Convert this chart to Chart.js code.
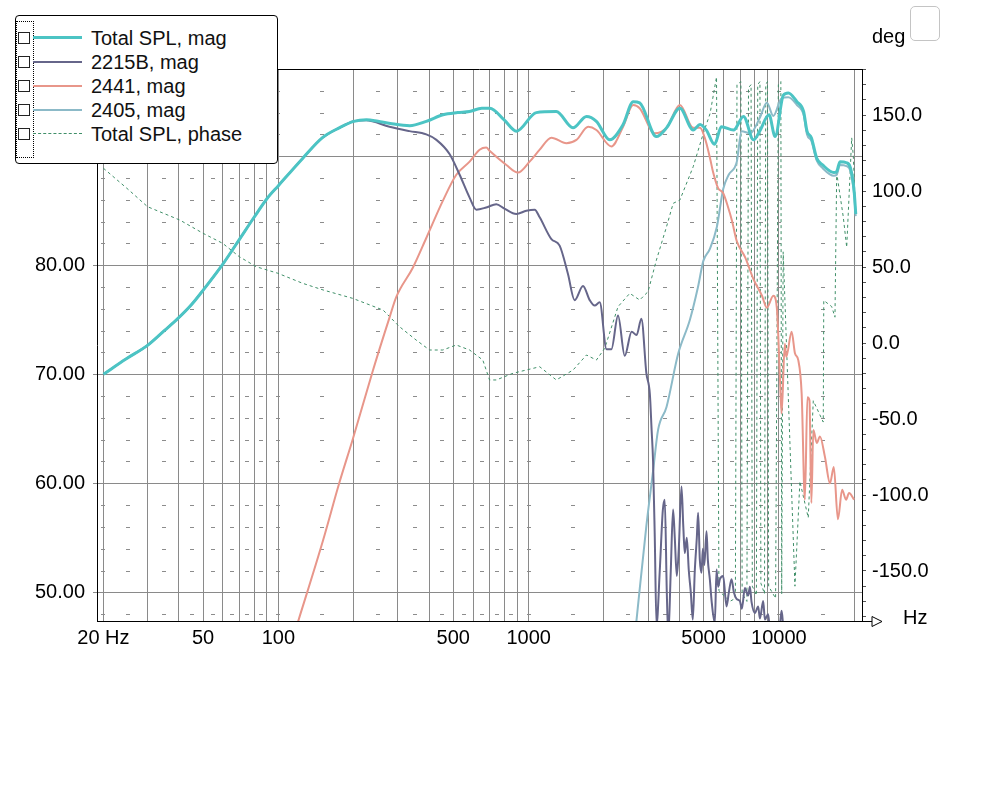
<!DOCTYPE html>
<html>
<head>
<meta charset="utf-8">
<title>Total SPL</title>
<script src="https://cdn.jsdelivr.net/npm/chart.js@4.4.1/dist/chart.umd.min.js"></script>
<style>
  body { margin: 0; background: #fff; font-family: "Liberation Sans", Arial, sans-serif; }
  #wrap { position: relative; width: 1000px; height: 800px; }
  #legend { position: absolute; left: 15px; top: 15px; width: 261px; height: 147px; border: 1px solid #000; border-radius: 4px; background: #fff; }
  #legend .dots { position: absolute; left: 0; top: 5px; width: 16px; height: 135px; border: 1px dotted #000; }
  #legend .row { position: absolute; left: 0; width: 255px; height: 24px; }
  #legend .box { position: absolute; left: 2px; top: 6px; width: 10px; height: 10px; border: 1px solid #222; background: #fff; }
  #legend .swatch { position: absolute; left: 17px; width: 49px; height: 0; }
  #legend .txt { position: absolute; left: 75px; top: 0; font-size: 20px; line-height: 24px; color: #111; white-space: nowrap; }
  #corner { position: absolute; left: 910px; top: 6px; width: 28px; height: 33px; border: 1px solid #c4c4c4; border-radius: 5px; }
</style>
</head>
<body>
<div id="wrap">
  <canvas id="grafico" width="1000" height="800"></canvas>
  <div id="legend"><div class="dots"></div></div>
  <div id="corner"></div>
</div>
<script>
// [frequency Hz, dB]
const totalSpl = [[20,70.0],[24.6,71.4],[30,72.65],[35,74.0],[39.6,75.1],[45,76.4],[50,77.7],[60,80.1],[70,82.4],[80,84.4],[90,86.1],[100,87.3],[125,89.8],[150,91.7],[175,92.6],[200,93.2],[225,93.35],[250,93.2],[280,93.0],[335,92.8],[390,93.2],[455,93.8],[520,94.0],[580,94.1],[650,94.4],[700,94.4],[800,93.3],[893,92.3],[1073,94.0],[1290,94.1],[1504,92.6],[1703,93.65],[1865,93.2],[2109,91.5],[2385,92.9],[2617,95.0],[2778,94.9],[3240,91.8],[3556,92.6],[4021,94.4],[4545,92.4],[4840,92.9],[5130,92.4],[5530,91.1],[5890,92.7],[6590,92.4],[7220,93.65],[7920,91.5],[8380,92.3],[9130,93.8],[9660,91.8],[10420,95.6],[10910,95.8],[11800,95.0],[12550,94.1],[12950,92.3],[13480,91.7],[14170,89.8],[14950,89.2],[16570,88.5],[17020,88.6],[17540,89.5],[18630,89.4],[19330,88.9],[19980,86.8],[20280,84.7]];

const woofer2215B = [[20,70.0],[24.6,71.4],[30,72.65],[35,74.0],[39.6,75.1],[45,76.4],[50,77.7],[60,80.1],[70,82.4],[80,84.4],[90,86.1],[100,87.3],[125,89.8],[150,91.7],[175,92.6],[200,93.2],[224,93.3],[278,92.7],[334,92.3],[390,92.0],[428,91.5],[483,90.2],[530,88.3],[581,86.2],[618,85.1],[677,85.3],[743,85.6],[800,85.2],[893,84.7],[979,85.0],[1057,85.1],[1107,84.4],[1233,82.4],[1330,81.8],[1436,79.2],[1527,76.8],[1649,78.1],[1754,76.8],[1836,76.3],[1923,76.6],[2048,72.3],[2141,72.3],[2276,75.4],[2421,71.7],[2580,73.9],[2700,73.6],[2822,75.1],[2954,70.1],[3050,68.2],[3100,64.9],[3142,62.0],[3192,55.0],[3243,47.0],[3342,52.0],[3436,57.5],[3499,58.5],[3565,50.0],[3614,46.0],[3698,52.0],[3777,57.6],[3837,55.0],[3908,51.5],[3981,54.0],[4081,59.7],[4150,56.0],[4207,53.6],[4285,55.0],[4365,52.0],[4446,50.0],[4529,47.5],[4613,52.0],[4699,55.0],[4756,57.3],[4831,53.0],[4907,51.8],[4966,54.0],[5035,52.5],[5138,55.6],[5200,53.0],[5297,51.2],[5395,49.0],[5546,47.2],[5634,52.1],[5718,50.5],[5808,51.2],[5987,51.5],[6178,48.7],[6310,50.0],[6469,51.2],[6607,50.0],[6773,49.4],[6982,49.2],[7112,48.5],[7311,50.4],[7536,49.7],[7656,50.5],[7777,49.1],[8017,48.1],[8264,48.7],[8395,47.6],[8654,49.2],[8790,47.5],[9061,48.0],[9204,46.5],[9638,46.0],[10090,47.0],[10250,48.3],[10400,47.0],[10570,46.0]];

const driver2441 = [[118,46.8],[151,54.8],[175,60.0],[198,64.0],[239,70.4],[278,75.2],[296,77.1],[345,79.8],[390,82.5],[454,85.9],[514,88.3],[581,89.5],[637,90.6],[677,90.8],[698,90.5],[815,89.2],[906,88.5],[1009,89.5],[1107,90.6],[1233,91.7],[1415,91.2],[1552,91.5],[1730,92.7],[1865,92.4],[2141,90.9],[2385,92.7],[2617,94.7],[2778,94.4],[3190,92.1],[3556,92.6],[4021,94.7],[4545,92.6],[4840,92.6],[5054,91.7],[5309,89.8],[5450,88.6],[5710,87.1],[5990,86.6],[6270,85.3],[6490,84.1],[6790,82.2],[7340,80.7],[7920,78.7],[8560,77.2],[8950,76.1],[9500,77.2],[9810,76.1],[9950,73.4],[10100,69.5],[10250,66.4],[10560,72.8],[10700,71.6],[11240,73.9],[11600,71.9],[11950,71.3],[12330,68.2],[12700,58.5],[13000,67.9],[13250,67.6],[13480,58.2],[13730,64.9],[14170,63.7],[14590,64.3],[15280,62.4],[16000,60.0],[16570,61.5],[17210,56.7],[17890,59.4],[18550,58.5],[19070,59.1],[19980,58.5]];

const tweeter2405 = [[2680,46.8],[2954,56.1],[3145,61.2],[3290,64.9],[3556,67.0],[3960,71.9],[4410,75.0],[4750,78.0],[4990,80.4],[5300,81.5],[5650,83.5],[5990,87.0],[6300,88.3],[6790,89.5],[7090,92.3],[7680,92.1],[8380,93.5],[8950,94.9],[9500,93.7],[10240,95.3],[10900,95.4],[11800,94.7],[12550,93.8],[12950,92.0],[13480,91.4],[14170,89.6],[14950,88.9],[16570,88.2],[17020,88.3],[17540,89.2],[18630,89.1],[19330,88.6],[19980,86.5],[20280,84.5]];

// [frequency Hz, degrees]
const totalPhase = [[20,115],[25.3,100.6],[30,89.7],[40.4,80.9],[50,72.2],[59.9,65.6],[69.8,56.8],[81.6,50.2],[99.5,45.9],[125,39.3],[151,34.9],[198,29.4],[262,21.7],[305,10.7],[355,2.0],[402,-4.6],[454,-4.6],[514,-1.3],[581,-4.6],[656,-11.2],[698,-24.3],[743,-24.3],[866,-19.9],[1107,-15.6],[1290,-24.3],[1504,-17.8],[1703,-7.9],[1865,-11.2],[2014,-3.5],[2276,23.9],[2536,32.7],[2778,28.3],[3000,33.8],[3240,54.6],[3556,76.5],[3780,91.9],[4021,94.1],[4545,116],[4990,138],[5309,151],[5633,175],[5760,-163],[6368,-170],[6700,-168],[6800,170],[7050,172],[7130,-165],[7450,-170],[7560,168],[7740,170],[7830,-160],[8130,-166],[8230,170],[8400,172],[8470,-158],[8760,-165],[8860,170],[9000,172],[9100,-160],[9700,-168],[9950,170],[10180,172],[10260,-165],[10400,60],[10570,28],[11590,-160],[12130,-91],[13100,-115],[13720,-38],[15040,-52],[15110,28],[16250,24],[16750,17],[17020,112],[18080,83],[18660,63],[19540,135],[19830,123],[20140,95]];

const seriesNames = ['Total SPL, mag', '2215B, mag', '2441, mag', '2405, mag', 'Total SPL, phase'];
const seriesColors = ['#4cc4c4', '#66668a', '#e8968a', '#8cbac8', '#3f8f68'];
const seriesWidths = [3, 2, 2, 2, 1];

// axes
const gridFreq = [20,30,40,50,60,70,80,90,100,200,300,400,500,600,700,800,900,1000,2000,3000,4000,5000,6000,7000,8000,9000,10000,20000];
const xTickValues = [20, 50, 100, 500, 1000, 5000, 10000];
const xTickLabels = ['20 Hz', '50', '100', '500', '1000', '5000', '10000'];
const dbTicks = [50, 60, 70, 80, 90];
const phaseTicks = [];
for (let d = -180; d <= 180; d += 10) phaseTicks.push(d);
const minorDb = [48,52,54,56,58,62,64,66,68,72,74,76,78,82,84,86,88,92,94,96];
const minorFreq = [20,25,35,45,55,65,75,85,100,150,250,350,450,550,650,750,850,1000,1500,2500,3500,4500,5500,6500,7500,8500,10000,15000];

// legend (html)
const legend = document.getElementById('legend');
seriesNames.forEach((name, i) => {
    const row = document.createElement('div');
    row.className = 'row';
    row.style.top = (10 + i * 24) + 'px';
    const w = seriesWidths[i];
    const style = i === 4 ? 'dashed' : 'solid';
    row.innerHTML = `<div class="box"></div>` +
        `<div class="swatch" style="top:${12 - Math.ceil(w / 2)}px;border-top:${w}px ${style} ${seriesColors[i]}"></div>` +
        `<div class="txt">${name}</div>`;
    legend.appendChild(row);
});

const extras = {
    id: 'extras',
    beforeDatasetsDraw(chart) {
        const { ctx, scales } = chart;
        ctx.save();
        ctx.strokeStyle = '#8c8c8c';
        ctx.lineWidth = 1;
        ctx.beginPath();
        minorDb.forEach(db => {
            const y = Math.round(scales.y.getPixelForValue(db)) + 0.5;
            minorFreq.forEach(f => {
                const x = Math.round(scales.x.getPixelForValue(f));
                ctx.moveTo(x - 2, y);
                ctx.lineTo(x + 2, y);
            });
        });
        ctx.stroke();
        ctx.restore();
    },
    afterDraw(chart) {
        const { ctx, chartArea } = chart;
        const r = chartArea.right, b = Math.round(chartArea.bottom) + 0.5, t = Math.round(chartArea.top) + 0.5;
        ctx.save();
        ctx.strokeStyle = '#000';
        ctx.lineWidth = 1;
        ctx.beginPath();
        ctx.moveTo(chartArea.left, t);
        ctx.lineTo(r, t);
        ctx.moveTo(r, b);
        ctx.lineTo(r + 10, b);
        ctx.moveTo(r + 10, b - 5);
        ctx.lineTo(r + 20, b);
        ctx.lineTo(r + 10, b + 5);
        ctx.closePath();
        ctx.stroke();
        ctx.fillStyle = '#000';
        ctx.font = '20px "Liberation Sans", Arial, sans-serif';
        ctx.textBaseline = 'middle';
        ctx.fillText('Hz', r + 41, b - 3);
        ctx.fillText('deg', r + 10, chartArea.top - 32);
        ctx.restore();
    }
};

Chart.defaults.font.family = '"Liberation Sans", Arial, sans-serif';
Chart.defaults.font.size = 20;
Chart.defaults.color = '#000';

const series = [totalSpl, woofer2215B, driver2441, tweeter2405, totalPhase];
const ctx = document.getElementById('grafico').getContext('2d');
const chart = new Chart(ctx, {
    type: 'line',
    data: {
        datasets: series.map((s, i) => ({
            label: seriesNames[i],
            data: s.map(p => ({ x: p[0], y: p[1] })),
            borderColor: seriesColors[i],
            borderWidth: seriesWidths[i],
            borderDash: i === 4 ? [3, 3] : [],
            borderJoinStyle: 'round',
            pointRadius: 0,
            cubicInterpolationMode: i === 4 ? 'default' : 'monotone',
            tension: i === 4 ? 0 : 0.4,
            fill: false,
            yAxisID: i === 4 ? 'yPhase' : 'y'
        }))
    },
    options: {
        responsive: false,
        animation: false,
        events: [],
        layout: { padding: { top: 69, left: 0, right: 0, bottom: 0 } },
        plugins: { legend: { display: false }, tooltip: { enabled: false } },
        scales: {
            x: {
                type: 'logarithmic',
                min: 18.85,
                max: 21480,
                afterBuildTicks: s => { s.ticks = gridFreq.map(v => ({ value: v })); },
                afterFit: s => { s.height = 179; },
                ticks: {
                    autoSkip: false, maxRotation: 0, minRotation: 0, padding: 5,
                    callback: v => {
                        const k = xTickValues.indexOf(v);
                        return k >= 0 ? xTickLabels[k] : '';
                    }
                },
                grid: { color: '#8a8a8a', lineWidth: 1, drawTicks: false },
                border: { color: '#000', width: 1 }
            },
            y: {
                position: 'left',
                min: 47.37,
                max: 98.0,
                afterBuildTicks: s => { s.ticks = dbTicks.map(v => ({ value: v })); },
                afterFit: s => { s.width = 97; },
                ticks: { padding: 8, callback: v => v.toFixed(2) },
                grid: { color: '#8a8a8a', tickLength: 4 },
                border: { color: '#000', width: 1 }
            },
            yPhase: {
                position: 'right',
                min: -182.9,
                max: 180.3,
                afterBuildTicks: s => { s.ticks = phaseTicks.map(v => ({ value: v })); },
                afterFit: s => { s.width = 138; },
                ticks: { autoSkip: false, padding: 6, callback: v => (v % 50 === 0 ? v.toFixed(1) : '') },
                grid: { drawOnChartArea: false, tickLength: 4, color: '#555' },
                border: { color: '#000', width: 1 }
            }
        }
    },
    plugins: [extras]
});
</script>
</body>
</html>
